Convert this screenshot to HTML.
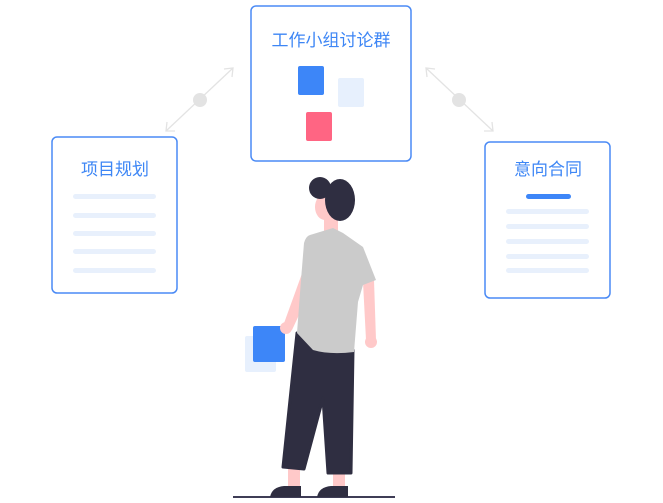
<!DOCTYPE html>
<html><head><meta charset="utf-8"><style>
html,body{margin:0;padding:0;background:#fff;width:663px;height:503px;overflow:hidden}
svg{display:block}
text{font-family:"Liberation Sans","Noto Sans CJK SC",sans-serif;font-size:17px;fill:#3d86f5}
</style></head><body>
<svg width="663" height="503" viewBox="0 0 663 503" xmlns="http://www.w3.org/2000/svg">
<g stroke="#e3e3e3" stroke-width="1.3" fill="none">
<line x1="233" y1="68" x2="166" y2="131"/>
<polyline points="224,69 233,68 232,77"/>
<polyline points="167,122 166,131 175,131"/>
<line x1="426" y1="68" x2="493" y2="131"/>
<polyline points="435,69 426,68 427,77"/>
<polyline points="492,122 493,131 484,131"/>
</g>
<circle cx="200" cy="100" r="7" fill="#e3e3e3"/>
<circle cx="459" cy="100" r="7" fill="#e3e3e3"/>
<rect x="251" y="6" width="160" height="155" rx="5" fill="#fff" stroke="#4a8af5" stroke-width="1.5"/>
<text x="331" y="46" text-anchor="middle">工作小组讨论群</text>
<rect x="298" y="66" width="26" height="29" rx="2" fill="#3d86f8"/>
<rect x="338" y="78" width="26" height="29" rx="2" fill="#e7f0fd"/>
<rect x="306" y="112" width="26" height="29" rx="2" fill="#ff6583"/>
<rect x="52" y="137" width="125" height="156" rx="5" fill="#fff" stroke="#4a8af5" stroke-width="1.5"/>
<text x="115" y="175" text-anchor="middle">项目规划</text>
<g fill="#e8f0fc">
<rect x="73" y="194" width="83" height="5" rx="2.5"/>
<rect x="73" y="213" width="83" height="5" rx="2.5"/>
<rect x="73" y="231" width="83" height="5" rx="2.5"/>
<rect x="73" y="249" width="83" height="5" rx="2.5"/>
<rect x="73" y="268" width="83" height="5" rx="2.5"/>
</g>
<rect x="485" y="142" width="125" height="156" rx="5" fill="#fff" stroke="#4a8af5" stroke-width="1.5"/>
<text x="548" y="175" text-anchor="middle">意向合同</text>
<rect x="526" y="194" width="45" height="5" rx="2.5" fill="#3d86f8"/>
<g fill="#e8f0fc">
<rect x="506" y="209" width="83" height="5" rx="2.5"/>
<rect x="506" y="224" width="83" height="5" rx="2.5"/>
<rect x="506" y="239" width="83" height="5" rx="2.5"/>
<rect x="506" y="254" width="83" height="5" rx="2.5"/>
<rect x="506" y="268" width="83" height="5" rx="2.5"/>
</g>
<line x1="233" y1="497" x2="395" y2="497" stroke="#3f3d56" stroke-width="2"/>
<rect x="245" y="336" width="31" height="36" rx="2" fill="#e7f0fd"/>
<rect x="288" y="465" width="12" height="24" fill="#ffc9c9"/>
<rect x="333" y="468" width="12" height="22" fill="#ffc9c9"/>
<path d="M270,497 Q272,487 284,486 L301,486 L301,497Z" fill="#2f2e41"/>
<path d="M317,497 Q319,487 331,486 L348,486 L348,497Z" fill="#2f2e41"/>
<path d="M297,333 L353,350 L351,473 L328,473 L323,398 L304,469 L283,467 Z" fill="#2f2e41" stroke="#2f2e41" stroke-linejoin="round" stroke-width="3"/>
<path d="M304,268 L283,326 L292,330 L314,283Z" fill="#ffc9c9"/>
<path d="M363,282 L374,280 L376,340 L366,340Z" fill="#ffc9c9"/>
<circle cx="371" cy="342" r="6" fill="#ffc9c9"/>
<rect x="324" y="212" width="14" height="22" fill="#ffc9c9"/>
<path d="M310,235 L333,228 L343,233 L363,247 L376,280 L363,285 L358,302 L354,352 Q330,355 313,350 L297,333 L301,280 L304,243 Q306,236 310,235Z" fill="#cbcbcb"/>
<rect x="253" y="326" width="32" height="36" rx="2" fill="#3d86f8"/>
<circle cx="286" cy="328" r="6" fill="#ffc9c9"/>
<ellipse cx="325" cy="207" rx="10" ry="13" fill="#ffc9c9"/>
<circle cx="320" cy="188" r="11" fill="#2f2e41"/>
<ellipse cx="340" cy="200" rx="15" ry="21" fill="#2f2e41"/>
</svg>
</body></html>
